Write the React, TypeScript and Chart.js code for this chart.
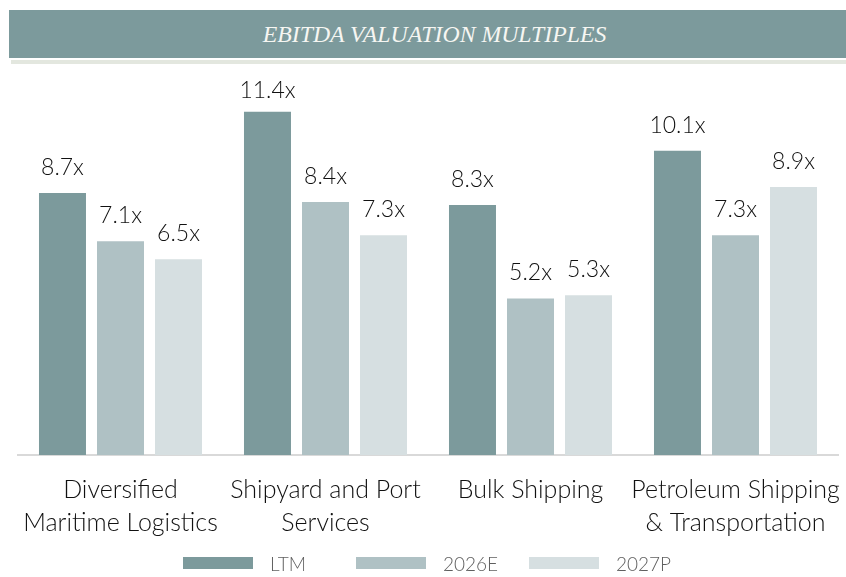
import React, { useEffect, useRef } from "react";
import { Chart, registerables } from "chart.js";

Chart.register(...registerables);

const categories: string[][] = [
  ["Diversified", "Maritime Logistics"],
  ["Shipyard and Port", "Services"],
  ["Bulk Shipping"],
  ["Petroleum Shipping", "& Transportation"],
];
const seriesNames = ["LTM", "2026E", "2027P"];
const ltm = [8.7, 11.4, 8.3, 10.1];
const e2026 = [7.1, 8.4, 5.2, 7.3];
const p2027 = [6.5, 7.3, 5.3, 8.9];
const colors = ["#7c9a9c", "#afc1c4", "#d6dfe1"];
const title = "EBITDA VALUATION MULTIPLES";

const FONT = "Lato, 'Open Sans', sans-serif";

const labelPlugin = {
  id: "barLabels",
  afterDatasetsDraw(chart: any) {
    const ctx = chart.ctx;
    ctx.save();
    ctx.font = `300 23px ${FONT}`;
    ctx.fillStyle = "#111111";
    ctx.textAlign = "center";
    ctx.textBaseline = "alphabetic";
    const minY = chart.chartArea.top + 21;
    chart.data.datasets.forEach((ds: any, i: number) => {
      const meta = chart.getDatasetMeta(i);
      meta.data.forEach((bar: any, j: number) => {
        ctx.fillText(ds.data[j].toFixed(1) + "x", bar.x, Math.max(bar.y - 18, minY));
      });
    });
    ctx.restore();
  },
};

export default function App() {
  const ref = useRef<HTMLCanvasElement>(null);
  useEffect(() => {
    if (!ref.current) return;
    const chart = new Chart(ref.current, {
      type: "bar",
      data: {
        labels: categories,
        datasets: [ltm, e2026, p2027].map((d, i) => ({
          label: seriesNames[i],
          data: d,
          backgroundColor: colors[i],
          categoryPercentage: 0.849,
          barPercentage: 0.81,
        })),
      },
      options: {
        animation: false,
        responsive: false,
        maintainAspectRatio: false,
        layout: { padding: { top: 77, left: 18, right: 8, bottom: 0 } },
        plugins: { legend: { display: false }, tooltip: { enabled: false } },
        scales: {
          x: {
            grid: { display: false },
            border: { display: true, color: "#d9d9d9", width: 2 },
            ticks: {
              color: "#111111",
              font: { family: FONT, size: 25, weight: "300", lineHeight: 1.32 },
              padding: 10,
              maxRotation: 0,
              autoSkip: false,
            },
            afterFit: (s: any) => {
              s.height = 122;
              s.paddingLeft = 0;
              s.paddingRight = 0;
            },
          },
          y: { display: false, min: 0, max: 12.55 },
        },
      },
      plugins: [labelPlugin],
    });
    return () => chart.destroy();
  }, []);

  return (
    <div style={{ position: "fixed", left: 0, top: 0, width: 846, height: 577, background: "#fff", overflow: "hidden" }}>
      <div
        style={{
          position: "absolute",
          left: 9,
          top: 10,
          width: 837,
          height: 48,
          background: "#7c9a9c",
          display: "flex",
          alignItems: "center",
          justifyContent: "center",
          paddingLeft: 14,
          boxSizing: "border-box",
        }}
      >
        <span
          style={{
            display: "inline-block",
            color: "#f6f6f2",
            fontFamily: "'Liberation Serif', serif",
            fontStyle: "italic",
            fontSize: 24,
            transform: "scaleX(0.99)",
            whiteSpace: "nowrap",
          }}
        >
          {title}
        </span>
      </div>
      <div style={{ position: "absolute", left: 11, top: 60, width: 835, height: 4, background: "#e3e7df" }} />
      <canvas ref={ref} width={846} height={577} style={{ position: "absolute", left: 0, top: 0 }} />
      <div style={{ position: "absolute", left: 0, top: 552, width: 846, height: 22 }}>
        {seriesNames.map((n, i) => (
          <div key={n} style={{ position: "absolute", left: 183 + i * 173, top: 0, height: 22, display: "flex", alignItems: "center" }}>
            <div style={{ width: 70, height: 12, background: colors[i] }} />
            <span style={{ marginLeft: 17, fontFamily: FONT, fontWeight: 300, fontSize: 19, color: "#5f5f5f" }}>{n}</span>
          </div>
        ))}
      </div>
    </div>
  );
}
